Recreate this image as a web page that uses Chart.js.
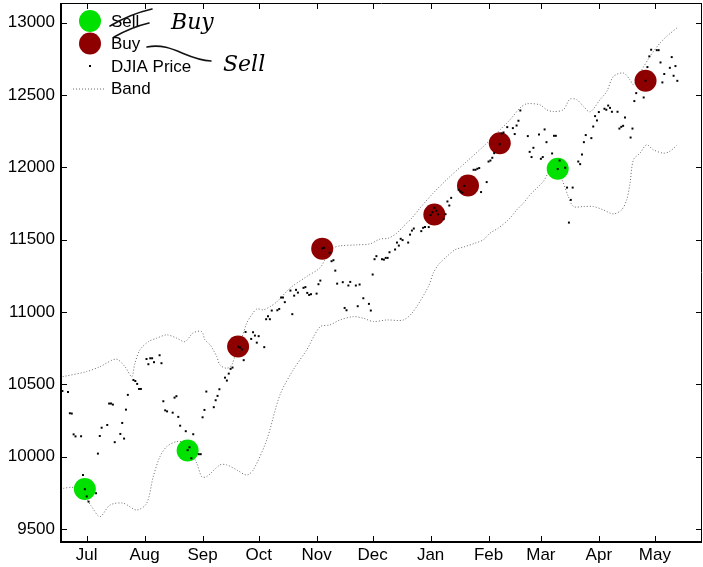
<!DOCTYPE html>
<html>
<head>
<meta charset="utf-8">
<script src="https://cdn.jsdelivr.net/npm/chart.js@4.4.1/dist/chart.umd.min.js"></script>
<style>
  html, body { margin: 0; padding: 0; background: #fff; }
  #wrap { width: 703px; height: 567px; position: relative; }
</style>
</head>
<body>
<div id="wrap"><canvas id="djiaChart"></canvas></div>
<script>
// x values are days counted from 1 Jul 2010
const monthLabels = ["Jul", "Aug", "Sep", "Oct", "Nov", "Dec", "Jan", "Feb", "Mar", "Apr", "May"];
const monthDays = [0, 31, 62, 92, 123, 153, 184, 215, 243, 274, 304];
const yTicks = [9500, 10000, 10500, 11000, 11500, 12000, 12500, 13000];

const priceDays = [
  -13, -10, -9, -8, -7, -6, -3, -2, -1, 0, 1, 5, 6, 7, 8, 11, 12, 13, 14, 15,
  18, 19, 20, 21, 22, 25, 26, 27, 28, 29, 32, 33, 34, 35, 36, 39, 40, 41, 42, 43,
  46, 47, 48, 49, 50, 53, 54, 55, 56, 57, 60, 61, 62, 63, 64, 68, 69, 70, 71,
  74, 75, 76, 77, 78, 81, 82, 83, 84, 85, 88, 89, 90, 91, 92, 95, 96, 97, 98, 99,
  102, 103, 104, 105, 106, 109, 110, 111, 112, 113, 116, 117, 118, 119, 120,
  123, 124, 125, 126, 127, 130, 131, 132, 133, 134, 137, 138, 139, 140, 141,
  144, 145, 146, 148, 151, 152, 153, 154, 155, 158, 159, 160, 161, 162,
  165, 166, 167, 168, 169, 172, 173, 174, 175, 179, 180, 181, 183,
  184, 185, 186, 187, 188, 191, 192, 193, 194, 195, 199, 200, 201, 202,
  207, 208, 209, 210, 211, 214, 215, 216, 217, 218, 221, 222, 223, 225,
  228, 229, 230, 231, 232, 236, 237, 238, 239, 242, 243, 244, 245, 246,
  249, 250, 251, 252, 253, 256, 257, 258, 259, 260, 263, 264, 265, 266, 267,
  270, 271, 272, 273, 274, 277, 278, 279, 280, 281, 284, 285, 286, 287, 288,
  291, 292, 293, 294, 298, 299, 300, 301, 302, 305, 306, 307, 308, 309,
  312, 313, 314, 315, 316
];
const priceValues = [
  10454, 10447, 10300, 10298, 10154, 10140, 10141, 9873, 9775, 9725, 9689, 9747, 10021, 10143, 10200, 10219, 10367, 10367, 10360, 10100,
  10157, 10233, 10125, 10325, 10427, 10530, 10523, 10503, 10468, 10468, 10675, 10639, 10680, 10680, 10653, 10701, 10646, 10383, 10320, 10313,
  10304, 10408, 10418, 10275, 10214, 10176, 10045, 10065, 9989, 10155, 10017, 10017, 10272, 10323, 10450, 10342, 10390, 10420, 10466,
  10546, 10526, 10574, 10607, 10616, 10760, 10755, 10740, 10667, 10862, 10814, 10860, 10837, 10788, 10833, 10757, 10950, 10971, 10950, 11010,
  11012, 11021, 11100, 11100, 11068, 11148, 10985, 11113, 11153, 11134, 11167, 11172, 11132, 11118, 11123,
  11127, 11192, 11217, 11440, 11444, 11409, 11351, 11358, 11286, 11196, 11206, 11028, 11012, 11183, 11208,
  11183, 11040, 11190, 11095, 11056, 11010, 11259, 11365, 11386, 11365, 11362, 11374, 11374, 11413,
  11432, 11480, 11459, 11506, 11497, 11480, 11535, 11563, 11577, 11559, 11582, 11587, 11587,
  11670, 11690, 11720, 11700, 11675, 11642, 11676, 11764, 11736, 11789, 11845, 11833, 11825, 11872,
  11983, 11983, 11990, 11995, 11829, 11898, 12040, 12047, 12066, 12098, 12160, 12234, 12241, 12278,
  12271, 12230, 12289, 12322, 12393, 12216, 12107, 12071, 12135, 12227, 12059, 12071, 12262, 12174,
  12096, 12218, 12218, 11988, 12047, 11997, 11860, 11618, 11775, 11860, 12040, 12022, 12089, 12174, 12223,
  12202, 12282, 12354, 12324, 12382, 12405, 12398, 12427, 12411, 12384, 12384, 12268, 12280, 12287, 12344,
  12206, 12268, 12458, 12513, 12483, 12598, 12693, 12767, 12813, 12810, 12810, 12725, 12587, 12645,
  12688, 12762, 12633, 12700, 12598
];

const upperDays = [
  -12.8, 0, 7.1, 15.7, 20.5, 24.1, 25.8, 28.5, 33, 37.5, 42.8, 48.2, 52.6, 56.9, 61.5, 63.3, 66, 67.7, 69.6, 71.3,
  74.9, 77.6, 79.9, 82.9, 85.6, 88.3, 91, 94.5, 98.1, 101.7, 108.8, 117.7, 124.8, 128, 131.9, 135.5, 144.5, 151.6,
  156.9, 161.4, 165.9, 169.4, 173.9, 178.3, 185.4, 194.4, 203.3, 212.2, 221.1, 226.5, 231.8, 235.4, 242.5, 246.1,
  249.6, 255, 258.6, 262.2, 265.5, 269.3, 274.6, 278.2, 281.8, 287.1, 290.7, 292.5, 296, 301.4, 306.7, 310.3, 315.7
];
const upperValues = [
  10553, 10588, 10622, 10674, 10622, 10553, 10646, 10738, 10795, 10819, 10842, 10819, 10795, 10855, 10865, 10807, 10773, 10738, 10692, 10634,
  10611, 10634, 10724, 10819, 10923, 10980, 11021, 11015, 11037, 11070, 11165, 11245, 11305, 11374, 11441, 11457, 11464, 11471,
  11504, 11510, 11545, 11591, 11649, 11718, 11822, 11937, 12040, 12144, 12259, 12329, 12410, 12439, 12432, 12398,
  12386, 12398, 12472, 12467, 12425, 12384, 12467, 12524, 12628, 12652, 12605, 12571, 12652, 12767, 12859, 12905, 12963
];
const lowerDays = [
  -12.5, -8, -3.6, 2.7, 7.1, 12.5, 19.6, 26.8, 32.1, 35.6, 39.2, 42.8, 48.2, 52.6, 58.9, 61.5, 64.2, 71.3, 74.9,
  80.3, 85.6, 89.1, 96.3, 103.4, 110.5, 117.7, 124.8, 130.2, 135.5, 142.6, 148, 153.3, 160.5, 169.4, 174.7,
  182.8, 185.4, 188.1, 192.6, 197.1, 202.4, 207.8, 212.2, 215.8, 220.2, 225.6, 230.1, 233.6, 237.2, 240.8,
  244.3, 247, 250.6, 254.3, 257.7, 260.4, 265.7, 271.1, 276.4, 281.8, 286.2, 288.9, 290.7, 292.5, 296, 299.6,
  303.2, 308.5, 311.8, 315.7
];
const lowerValues = [
  9781, 9788, 9770, 9654, 9585, 9666, 9678, 9631, 9678, 9862, 10000, 10069, 10104, 10093, 9954, 9862, 9862, 9943, 9943,
  9908, 9873, 9908, 10115, 10427, 10600, 10738, 10897, 10911, 10945, 10968, 10957, 10934, 10945, 10945, 11003,
  11176, 11268, 11326, 11383, 11430, 11452, 11476, 11499, 11545, 11580, 11637, 11706, 11752, 11810, 11856,
  11902, 11960, 11997, 11914, 11798, 11729, 11729, 11729, 11706, 11678, 11706, 11775, 11891, 12052, 12098, 12156,
  12121, 12098, 12109, 12152
];

const sellDays = [-1, 54, 252];
const sellValues = [9777, 10042, 11990];
const buyDays = [81, 126, 186, 204, 221, 299];
const buyValues = [10761, 11438, 11674, 11874, 12167, 12598];

function toPoints(xs, ys) {
  return xs.map((x, i) => ({ x: x, y: ys[i] }));
}

// stop the scales from reserving room for half labels at the ends
function noScalePadding(scale) {
  scale.paddingLeft = 0;
  scale.paddingRight = 0;
  scale.paddingTop = 0;
  scale.paddingBottom = 0;
}

const sellColor = "#00e100";
const buyColor = "#8e0000";
const bandColor = "#6a6a6a";
const fontFamily = "'Liberation Sans', Arial, Helvetica, sans-serif";

// box, inward ticks, legend and the pen notes
const framePlugin = {
  id: "frame",
  afterDraw(chart) {
    const ctx = chart.ctx;
    const area = chart.chartArea;
    const xs = chart.scales.x;
    const ys = chart.scales.y;
    const tick = 6;
    ctx.save();
    ctx.strokeStyle = "#000";

    ctx.lineWidth = 1;
    ctx.beginPath();
    ctx.moveTo(area.left, area.top + 0.5);
    ctx.lineTo(area.right, area.top + 0.5);
    ctx.moveTo(area.right - 0.5, area.top);
    ctx.lineTo(area.right - 0.5, area.bottom);
    monthDays.forEach(function (d) {
      const px = Math.round(xs.getPixelForValue(d)) + 0.5;
      ctx.moveTo(px, area.bottom);
      ctx.lineTo(px, area.bottom - tick);
      ctx.moveTo(px, area.top);
      ctx.lineTo(px, area.top + tick);
    });
    yTicks.forEach(function (v) {
      const py = Math.round(ys.getPixelForValue(v)) + 0.5;
      ctx.moveTo(area.left, py);
      ctx.lineTo(area.left + tick, py);
      ctx.moveTo(area.right, py);
      ctx.lineTo(area.right - tick, py);
    });
    ctx.stroke();

    ctx.lineWidth = 2;
    ctx.beginPath();
    ctx.moveTo(area.left, area.top);
    ctx.lineTo(area.left, area.bottom);
    ctx.lineTo(area.right, area.bottom);
    ctx.stroke();

    // legend
    const lx = area.left + 29;
    const rows = [area.top + 18, area.top + 40.5, area.top + 63, area.top + 85.5];
    ctx.fillStyle = sellColor;
    ctx.beginPath();
    ctx.arc(lx, rows[0], 11, 0, Math.PI * 2);
    ctx.fill();
    ctx.fillStyle = buyColor;
    ctx.beginPath();
    ctx.arc(lx, rows[1], 11, 0, Math.PI * 2);
    ctx.fill();
    ctx.fillStyle = "#000";
    ctx.fillRect(lx - 1, rows[2] - 1, 2, 2);
    ctx.strokeStyle = bandColor;
    ctx.lineWidth = 1;
    ctx.setLineDash([1, 2]);
    ctx.beginPath();
    ctx.moveTo(lx - 17, rows[3] + 0.5);
    ctx.lineTo(lx + 14, rows[3] + 0.5);
    ctx.stroke();
    ctx.setLineDash([]);

    ctx.fillStyle = "#000";
    ctx.font = "17px " + fontFamily;
    ctx.textBaseline = "middle";
    ctx.textAlign = "left";
    ["Sell", "Buy", "DJIA Price", "Band"].forEach(function (t, i) {
      ctx.fillText(t, lx + 21, rows[i] + 1);
    });

    // hand-written corrections
    ctx.strokeStyle = "#111";
    ctx.lineWidth = 1.6;
    ctx.lineCap = "round";
    ctx.beginPath();
    ctx.moveTo(110, 26);
    ctx.quadraticCurveTo(130, 14, 152, 9);
    ctx.moveTo(114, 37);
    ctx.quadraticCurveTo(132, 27, 149, 23);
    ctx.moveTo(147, 47);
    ctx.bezierCurveTo(172, 42, 186, 60, 211, 61);
    ctx.stroke();
    ctx.font = "italic 22px 'DejaVu Serif', serif";
    ctx.textBaseline = "alphabetic";
    ctx.fillText("Buy", 171, 29);
    ctx.fillText("Sell", 223, 71);
    ctx.restore();
  },
};

const ctx = document.getElementById("djiaChart").getContext("2d");
const djiaChart = new Chart(ctx, {
  type: "scatter",
  data: {
    datasets: [
      {
        label: "DJIA Price",
        data: toPoints(priceDays, priceValues),
        pointStyle: "rect",
        pointRadius: 1.4,
        backgroundColor: "#000",
        borderWidth: 0,
      },
      {
        label: "Sell",
        data: toPoints(sellDays, sellValues),
        pointRadius: 11,
        backgroundColor: sellColor,
        borderWidth: 0,
      },
      {
        label: "Buy",
        data: toPoints(buyDays, buyValues),
        pointRadius: 11,
        backgroundColor: buyColor,
        borderWidth: 0,
      },
      {
        label: "Band",
        data: toPoints(upperDays, upperValues),
        showLine: true,
        pointRadius: 0,
        borderColor: bandColor,
        borderWidth: 1,
        borderDash: [1, 2],
        tension: 0.3,
      },
      {
        label: "Band lower",
        data: toPoints(lowerDays, lowerValues),
        showLine: true,
        pointRadius: 0,
        borderColor: bandColor,
        borderWidth: 1,
        borderDash: [1, 2],
        tension: 0.3,
      },
    ],
  },
  options: {
    responsive: true,
    maintainAspectRatio: false,
    animation: false,
    layout: {
      autoPadding: false,
      padding: { top: 3, right: 1, left: 0, bottom: 0 },
    },
    plugins: {
      legend: { display: false },
      tooltip: { enabled: false },
    },
    scales: {
      x: {
        type: "linear",
        min: -13.75,
        max: 329.2,
        grid: { display: false, drawTicks: false },
        border: { display: false },
        afterBuildTicks: function (scale) {
          scale.ticks = monthDays.map((d) => ({ value: d }));
        },
        afterFit: function (scale) {
          scale.height = 25;
          noScalePadding(scale);
        },
        ticks: {
          autoSkip: false,
          maxRotation: 0,
          padding: 3,
          color: "#000",
          font: { family: fontFamily, size: 17 },
          callback: function (value, index) {
            return monthLabels[index];
          },
        },
      },
      y: {
        type: "linear",
        min: 9410,
        max: 13136,
        grid: { display: false, drawTicks: false },
        border: { display: false },
        afterBuildTicks: function (scale) {
          scale.ticks = yTicks.map((v) => ({ value: v }));
        },
        afterFit: function (scale) {
          scale.width = 61;
          noScalePadding(scale);
        },
        ticks: {
          padding: 6,
          color: "#000",
          font: { family: fontFamily, size: 17 },
          callback: function (value) {
            return String(value);
          },
        },
      },
    },
  },
  plugins: [framePlugin],
});
</script>
</body>
</html>
